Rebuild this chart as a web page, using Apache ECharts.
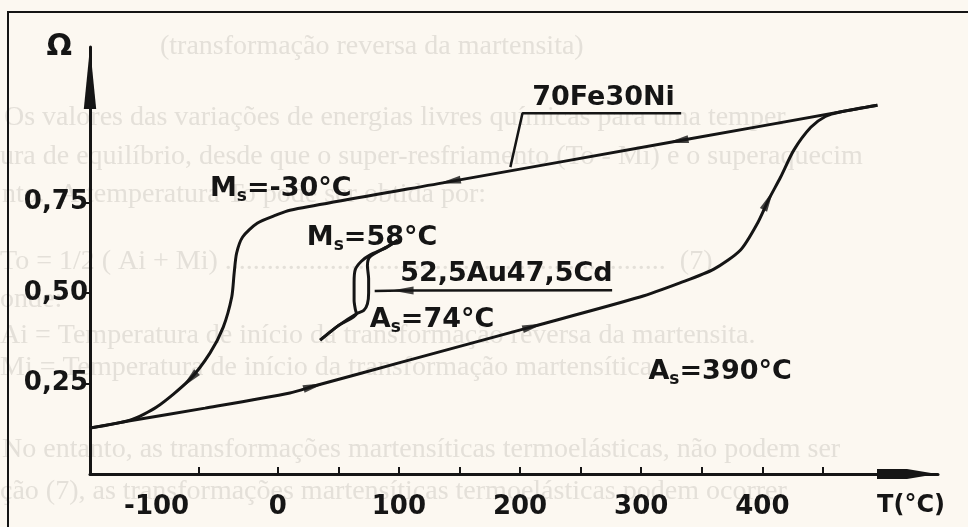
<!DOCTYPE html>
<html><head><meta charset="utf-8">
<script src="https://cdn.jsdelivr.net/npm/echarts@6/dist/echarts.min.js"></script>
<style>html,body{margin:0;padding:0;background:#fcf8f1;}#c{width:968px;height:527px;}</style>
</head><body><div id="c"></div>
<script>
// ---- data ----
const xTickMarks = [-65, 0, 50, 100, 150, 200, 250, 300, 350, 400, 450];
const xTickLabels = [-100, 0, 100, 200, 300, 400];
const yTickValues = [0.25, 0.5, 0.75];

// 70Fe30Ni: heating branch (T in °C, Omega)
const feHeating = [[-155,0.127],[-122,0.147],[-60,0.182],[10,0.224],[30,0.243],[100,0.307],[211,0.408],[299,0.489],[332,0.528],[360,0.566],[382,0.619],[396,0.693],[405,0.757],[415,0.820],[426,0.895],[440,0.958],[452,0.988],[465,1.001],[495,1.019]];
// 70Fe30Ni: cooling branch
const feCooling = [[495,1.019],[330,0.920],[142,0.808],[10,0.729],[-1,0.716],[-17,0.693],[-29,0.655],[-34,0.610],[-36,0.555],[-38,0.489],[-45,0.406],[-56,0.334],[-73,0.260],[-100,0.185],[-122,0.149],[-155,0.127]];
// 52,5Au47,5Cd: heating and cooling branches
const aucdHeating = [[35,0.370],[50,0.410],[65,0.443],[71,0.452],[74,0.470],[75,0.500],[75,0.540],[74,0.575],[76,0.600],[90,0.627],[99,0.646]];
const aucdCooling = [[99,0.646],[90,0.627],[76,0.605],[69,0.588],[64,0.565],[63,0.530],[63,0.480],[64,0.455],[65,0.443],[50,0.410],[35,0.370]];
// leader lines of the alloy labels
const feLeader = [[192,0.848],[202,0.997],[333,0.997]];
const aucdLeader = [[276,0.508],[103,0.507],[80,0.506]];
// where the direction arrows sit (indices into the curves)
const feHeatArrowIdx = [4, 6, 12];
const feCoolArrowIdx = [1, 2, 12];
const aucdLeaderArrowIdx = [1];

// ---- chart ----
const ink = '#151515';
const FONT = 'DejaVu Sans';
const chart = echarts.init(document.getElementById('c'), null, {renderer: 'canvas'});

const labelDefs = [
  {text: 'M{s|s}=-30°C', at: [-56, 0.787]},
  {text: 'M{s|s}=58°C', at: [24, 0.652]},
  {text: '52,5Au47,5Cd', at: [101, 0.552]},
  {text: 'A{s|s}=74°C', at: [76, 0.425]},
  {text: '70Fe30Ni', at: [210, 1.039]},
  {text: 'A{s|s}=390°C', at: [306, 0.282]}
];

const bgLines = [
  {t: '(transformação reversa da martensita)', x: 160, y: 47},
  {t: 'Os valores das variações de energias livres químicas para uma temper', x: 4, y: 118},
  {t: 'ura de equilíbrio, desde que o super-resfriamento (To - Mi) e o superaquecim', x: 0, y: 157},
  {t: 'nto.  A temperatura To pode ser obtida por:', x: 2, y: 195},
  {t: 'To = 1/2 ( Ai + Mi) ...............................................................  (7)', x: 0, y: 262},
  {t: 'onde:', x: 0, y: 300},
  {t: 'Ai = Temperatura de início da transformação reversa da martensita.', x: 0, y: 336},
  {t: 'Mi = Temperatura de início da transformação martensítica.', x: 0, y: 368},
  {t: 'No entanto, as transformações martensíticas termoelásticas, não podem ser', x: 2, y: 450},
  {t: 'ção (7), as transformações martensíticas termoelásticas podem ocorrer', x: 0, y: 492}
];

function lineSeries(data) {
  return {type: 'line', data: data, showSymbol: false, smooth: 0.25, silent: true,
    lineStyle: {color: ink, width: 3}, z: 5};
}
const arrowSymbol = 'path://M5,0 L10,26 L0,26 Z';

const option = {
  backgroundColor: '#fcf8f1',
  animation: false,
  grid: {left: 90, right: 30, top: 47, bottom: 53, containLabel: false},
  xAxis: {
    type: 'value', min: -155, max: 545,
    name: 'T(°C)', nameLocation: 'end', nameGap: -27,
    nameTextStyle: {color: ink, fontFamily: FONT, fontWeight: 'bold', fontSize: 24, align: 'center', verticalAlign: 'top', padding: [20, 0, 0, 0]},
    axisLine: {show: true, onZero: false, lineStyle: {color: ink, width: 3}, symbol: ['none', 'path://M5,0 L10,30 L10,60 L0,60 L0,30 Z'], symbolSize: [10, 62], symbolOffset: [0, -31]},
    axisTick: {show: true, customValues: xTickMarks, inside: true, length: 7, lineStyle: {color: ink, width: 2}},
    axisLabel: {show: true, customValues: xTickLabels, color: ink, fontFamily: FONT, fontWeight: 'bold', fontSize: 26, margin: 20},
    splitLine: {show: false}
  },
  yAxis: {
    type: 'value', min: 0, max: 1.18,
    name: 'Ω', nameLocation: 'end', nameGap: 0,
    nameTextStyle: {color: ink, fontFamily: FONT, fontWeight: 'bold', fontSize: 30, align: 'right', verticalAlign: 'middle', padding: [0, 18, 0, 0]},
    axisLine: {show: true, onZero: false, lineStyle: {color: ink, width: 3}, symbol: ['none', 'path://M6,0 L12,60 L0,60 Z'], symbolSize: [13, 62], symbolOffset: [0, -31]},
    axisTick: {show: true, customValues: yTickValues, inside: false, length: 5, lineStyle: {color: ink, width: 2}},
    axisLabel: {show: true, customValues: yTickValues, color: ink, fontFamily: FONT, fontWeight: 'bold', fontSize: 26, margin: 2,
      formatter: v => v.toFixed(2).replace('.', ',')},
    splitLine: {show: false}
  },
  series: [
    lineSeries(feHeating),
    lineSeries(feCooling),
    lineSeries(aucdHeating),
    lineSeries(aucdCooling),
    {type: 'line', data: feLeader, showSymbol: false, silent: true, lineStyle: {color: ink, width: 2.5}, z: 5},
    {type: 'line', data: aucdLeader, showSymbol: false, silent: true, lineStyle: {color: ink, width: 2.5}, z: 5}
  ]
};
chart.setOption(option);

function arrowData(curve, idxs) {
  return idxs.map(i => {
    const a = chart.convertToPixel({gridIndex: 0}, curve[i - 1]);
    const b = chart.convertToPixel({gridIndex: 0}, curve[i + 1]);
    const ang = Math.atan2(-(b[1] - a[1]), b[0] - a[0]) * 180 / Math.PI;
    return {value: curve[i], symbolRotate: ang - 90};
  });
}
const arrows = [].concat(
  arrowData(feHeating, feHeatArrowIdx),
  arrowData(feCooling, feCoolArrowIdx),
  arrowData(aucdLeader, aucdLeaderArrowIdx)
);

const graphics = [];
graphics.push({type: 'rect', shape: {x: 8, y: 12, width: 1000, height: 560}, style: {fill: 'none', stroke: ink, lineWidth: 2}, z: 1, silent: true});
bgLines.forEach(l => graphics.push({type: 'text', x: l.x, y: l.y, z: 0, silent: true,
  style: {text: l.t, fill: '#e4e0d9', font: '28px "Liberation Serif"', verticalAlign: 'middle'}}));
labelDefs.forEach(l => {
  const p = chart.convertToPixel({gridIndex: 0}, l.at);
  graphics.push({type: 'text', x: p[0], y: p[1], z: 10, silent: true,
    style: {text: l.text, fill: ink, fontFamily: FONT, fontWeight: 'bold', fontSize: 27, lineHeight: 32,
      verticalAlign: 'middle', align: 'left',
      rich: {s: {fontFamily: FONT, fontWeight: 'bold', fontSize: 17, lineHeight: 8, verticalAlign: 'bottom', fill: ink}}}});
});

chart.setOption({
  graphic: graphics,
  series: [{}, {}, {}, {}, {}, {},
    {type: 'scatter', data: arrows, symbol: arrowSymbol, symbolSize: [8, 22], silent: true,
      itemStyle: {color: ink}, z: 6}]
});
</script></body></html>
